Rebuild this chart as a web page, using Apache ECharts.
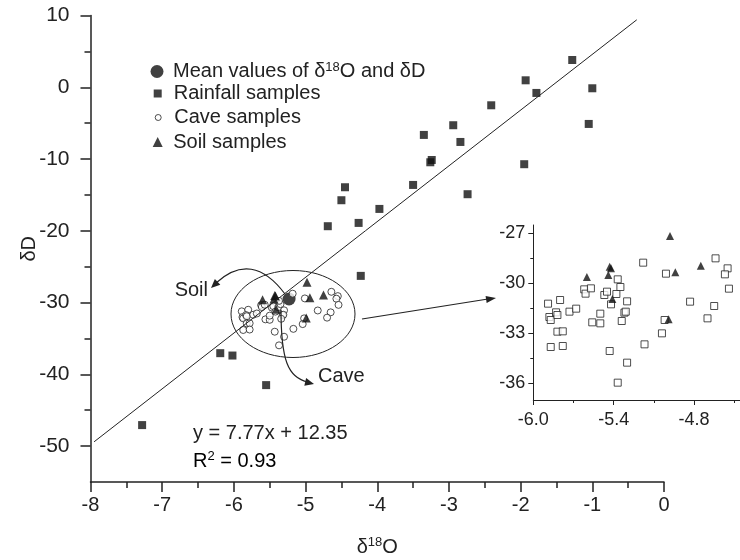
<!DOCTYPE html>
<html>
<head>
<meta charset="utf-8">
<script src="https://cdn.jsdelivr.net/npm/echarts@6/dist/echarts.min.js"></script>
<style>
  html, body { margin: 0; background: #fff; }
  #main { width: 740px; height: 560px; }
</style>
</head>
<body>
<div id="main"></div>
<script>
// rainfall samples (d18O, dD)
const rainO = [-1.28, -1.93, -1.78, -1.00, -2.41, -1.05, -2.94, -3.35, -2.84, -3.24, -3.26, -1.95,
  -3.50, -2.74, -4.45, -4.50, -3.97, -4.69, -4.26, -4.23, -6.19, -6.02, -5.55, -7.28];
const rainD = [3.8, 0.97, -0.79, -0.14, -2.51, -5.11, -5.29, -6.64, -7.62, -10.13, -10.45, -10.72,
  -13.61, -14.9, -13.93, -15.74, -16.95, -19.36, -18.9, -26.28, -37.05, -37.38, -41.5, -47.07];

// cave drip water samples
const caveO = [-5.89, -5.80, -5.88, -5.87, -5.83, -5.82, -5.82, -5.78, -5.87, -5.78, -5.73, -5.68,
  -5.62, -5.61, -5.57, -5.56, -5.50, -5.50, -5.47, -5.45, -5.42, -5.38, -5.35, -5.37, -5.30, -5.32,
  -5.31, -5.34, -5.43, -5.30, -5.37, -5.18, -5.01, -4.83, -5.02, -5.04, -5.17, -4.64, -4.55, -4.57,
  -4.54, -4.65, -4.70];
const caveD = [-31.22, -31.0, -32.02, -32.2, -31.74, -31.9, -32.9, -32.88, -33.82, -33.76, -31.7, -31.52,
  -30.36, -30.62, -30.3, -32.34, -32.4, -31.82, -30.7, -30.5, -31.26, -30.64, -30.22, -29.76, -31.08, -31.76,
  -31.7, -32.26, -34.06, -34.76, -35.96, -28.76, -29.42, -31.1, -32.2, -33.0, -33.66, -28.5, -29.1, -29.46,
  -30.32, -31.36, -32.1];

// soil water samples
const soilO = [-5.60, -5.43, -5.42, -5.44, -5.41, -4.98, -4.94, -4.75, -4.99];
const soilD = [-29.62, -29.0, -29.1, -29.5, -30.94, -27.16, -29.34, -28.94, -32.16];

// mean value
const meanO = [-5.23];
const meanD = [-29.5];

// regression line ends (y = 7.77x + 12.35)
const fitO = [-7.95, -0.38];
const fitD = [-49.4, 9.4];

// tick labels
const mainYLabels = [-50, -40, -30, -20, -10, 0, 10];
const mainYMinor = [-45, -35, -25, -15, -5, 5];
const insetYLabels = [-36, -33, -30, -27];
const insetYMinor = [-34.5, -31.5, -28.5];

const FONT = "'Liberation Sans', Arial, Helvetica, sans-serif";
const INK = '#222';
const zip = (a, b) => a.map((v, i) => [v, b[i]]);

const MEAN = 'Mean values of δ18O and δD';
const rich = {
  t: { fontSize: 20, lineHeight: 22, fontFamily: FONT, color: INK },
  s: { fontSize: 13, lineHeight: 13, fontFamily: FONT, color: INK, verticalAlign: 'top' }
};

function legendBox(name, icon, size, cx, cy, pad, itemStyle) {
  const item = { name: name, icon: icon };
  if (itemStyle) item.itemStyle = itemStyle;
  return {
    data: [item],
    left: cx - size / 2,
    top: cy - 10,
    padding: 0,
    itemWidth: size,
    itemHeight: size,
    selectedMode: false,
    formatter: n => n === MEAN ? '{t|Mean values of δ}{s|18}{t|O and δD}' : '{t|' + n + '}',
    textStyle: { fontSize: 20, color: INK, fontFamily: FONT, padding: [0, 0, 0, pad], rich: rich }
  };
}

function arrowHead(tip, from, len, half) {
  const dx = tip[0] - from[0], dy = tip[1] - from[1];
  const l = Math.hypot(dx, dy), ux = dx / l, uy = dy / l;
  const bx = tip[0] - ux * len, by = tip[1] - uy * len;
  return {
    type: 'polygon', z: 100,
    shape: { points: [tip, [bx - uy * half, by + ux * half], [bx + uy * half, by - ux * half]] },
    style: { fill: INK }
  };
}

const axisBase = (w) => ({
  axisLine: { onZero: false, lineStyle: { color: INK, width: w } },
  splitLine: { show: false }
});

const chart = echarts.init(document.getElementById('main'));

chart.setOption({
  animation: false,
  textStyle: { fontFamily: FONT },
  grid: [
    { left: 90.5, top: 15.5, width: 573.5, height: 466.5, outerBoundsMode: 'none' },
    { left: 533.3, top: 225, width: 241.2, height: 175, outerBoundsMode: 'none' }
  ],
  legend: [
    legendBox(MEAN, 'circle', 13, 157, 70.5, 4.5),
    legendBox('Rainfall samples', 'rect', 8, 157.7, 93.5, 7),
    legendBox('Cave samples', 'circle', 6, 157.7, 117.5, 8,
      { color: '#fff', borderColor: INK, borderWidth: 1 }),
    legendBox('Soil samples', 'triangle', 10, 157.7, 142, 5.5)
  ],
  xAxis: [
    Object.assign(axisBase(1.5), {
      type: 'value', gridIndex: 0, min: -8, max: 0, interval: 1,
      axisTick: { length: 10, lineStyle: { color: INK, width: 1.5 } },
      minorTick: { show: true, splitNumber: 2, length: 6, lineStyle: { color: INK, width: 1.5 } },
      axisLabel: { fontSize: 20, color: INK, margin: 13 },
      name: '{t|δ}{s|18}{t|O}', nameLocation: 'middle', nameGap: 54, nameMoveOverlap: false,
      nameTextStyle: { fontSize: 20, color: INK, rich: rich }
    }),
    Object.assign(axisBase(1), {
      type: 'value', gridIndex: 1, min: -6, max: -4.2, interval: 0.6,
      axisTick: { length: 5, lineStyle: { color: INK } },
      minorTick: { show: true, splitNumber: 2, length: 3, lineStyle: { color: INK } },
      axisLabel: { fontSize: 18, color: INK, margin: 11, formatter: v => v.toFixed(1) }
    })
  ],
  yAxis: [
    Object.assign(axisBase(1.5), {
      type: 'value', gridIndex: 0, min: -55, max: 10,
      axisTick: { customValues: mainYLabels, length: 10, lineStyle: { color: INK, width: 1.5 } },
      axisLabel: { customValues: mainYLabels, fontSize: 21, color: INK, margin: 21 },
      name: 'δD', nameLocation: 'middle', nameGap: 51, nameRotate: 90, nameMoveOverlap: false,
      nameTextStyle: { fontSize: 20, color: INK }
    }),
    {
      type: 'value', gridIndex: 0, position: 'left', min: -55, max: 10,
      axisLine: { show: false, onZero: false }, axisLabel: { show: false }, splitLine: { show: false },
      axisTick: { customValues: mainYMinor, length: 6, lineStyle: { color: INK, width: 1.5 } }
    },
    Object.assign(axisBase(1), {
      type: 'value', gridIndex: 1, min: -37, max: -26.5,
      axisTick: { customValues: insetYLabels, length: 5, lineStyle: { color: INK } },
      axisLabel: { customValues: insetYLabels, fontSize: 18, color: INK, margin: 8 }
    }),
    {
      type: 'value', gridIndex: 1, position: 'left', min: -37, max: -26.5,
      axisLine: { show: false, onZero: false }, axisLabel: { show: false }, splitLine: { show: false },
      axisTick: { customValues: insetYMinor, length: 3, lineStyle: { color: INK } }
    }
  ],
  series: [
    {
      name: 'Rainfall samples', type: 'scatter', xAxisIndex: 0, yAxisIndex: 0,
      symbol: 'rect', symbolSize: 8, itemStyle: { color: '#111' },
      data: zip(rainO, rainD)
    },
    {
      name: 'fit', type: 'line', xAxisIndex: 0, yAxisIndex: 0, showSymbol: false,
      lineStyle: { color: INK, width: 1 }, data: zip(fitO, fitD)
    },
    {
      name: MEAN, type: 'scatter', xAxisIndex: 0, yAxisIndex: 0,
      symbol: 'circle', symbolSize: 13, itemStyle: { color: '#111' },
      data: zip(meanO, meanD)
    },
    {
      name: 'Cave samples', type: 'scatter', xAxisIndex: 0, yAxisIndex: 0,
      symbol: 'circle', symbolSize: 7,
      itemStyle: { color: '#fff', borderColor: INK, borderWidth: 1 },
      data: zip(caveO, caveD)
    },
    {
      name: 'Soil samples', type: 'scatter', xAxisIndex: 0, yAxisIndex: 0,
      symbol: 'triangle', symbolSize: 9, itemStyle: { color: '#111' },
      data: zip(soilO, soilD)
    },
    {
      name: 'inset cave', type: 'scatter', xAxisIndex: 1, yAxisIndex: 2,
      symbol: 'rect', symbolSize: 7, clip: false,
      itemStyle: { color: '#fff', borderColor: INK, borderWidth: 1 },
      data: zip(caveO, caveD)
    },
    {
      name: 'inset soil', type: 'scatter', xAxisIndex: 1, yAxisIndex: 2,
      symbol: 'triangle', symbolSize: 8, itemStyle: { color: '#111' },
      data: zip(soilO, soilD)
    }
  ],
  graphic: [
    { type: 'ellipse', z: 100, shape: { cx: 293, cy: 314, rx: 62, ry: 43.5 },
      style: { fill: 'none', stroke: INK, lineWidth: 1 } },
    // Soil arrow
    { type: 'bezierCurve', z: 100, shape: { x1: 285, y1: 294, cpx1: 252, cpy1: 250, x2: 216, y2: 283 },
      style: { fill: 'none', stroke: INK, lineWidth: 1.2 } },
    arrowHead([211, 288], [252, 250], 9, 4),
    // Cave arrow
    { type: 'bezierCurve', z: 100,
      shape: { x1: 281, y1: 310, cpx1: 281, cpy1: 360, cpx2: 288, cpy2: 378, x2: 308, y2: 382 },
      style: { fill: 'none', stroke: INK, lineWidth: 1.2 } },
    arrowHead([314, 384], [288, 378], 9, 4),
    // pointer to inset
    { type: 'line', z: 100, shape: { x1: 362, y1: 319, x2: 488, y2: 299 },
      style: { stroke: INK, lineWidth: 1.2 } },
    arrowHead([496, 298], [362, 319], 10, 3.5),
    { type: 'text', z: 100, x: 208, y: 290,
      style: { text: 'Soil', font: '20px ' + FONT, fill: INK, textAlign: 'right', textVerticalAlign: 'middle' } },
    { type: 'text', z: 100, x: 318, y: 376,
      style: { text: 'Cave', font: '20px ' + FONT, fill: INK, textAlign: 'left', textVerticalAlign: 'middle' } },
    { type: 'text', z: 100, x: 193, y: 433,
      style: { text: 'y = 7.77x + 12.35', font: '20px ' + FONT, fill: INK, textAlign: 'left', textVerticalAlign: 'middle' } },
    { type: 'text', z: 100, x: 193, y: 461,
      style: { text: '{t|R}{s|2}{t| = 0.93}', rich: rich, textAlign: 'left', textVerticalAlign: 'middle' } }
  ]
});
</script>
</body>
</html>
